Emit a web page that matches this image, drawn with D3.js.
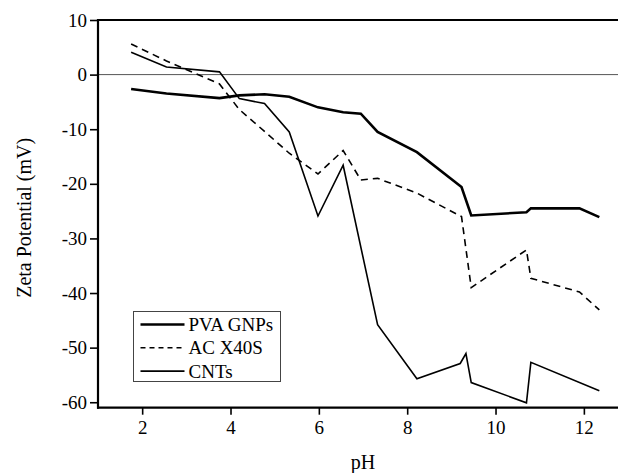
<!DOCTYPE html>
<html>
<head>
<meta charset="utf-8">
<script src="https://cdn.jsdelivr.net/npm/d3@7"></script>
<style>
  body { margin: 0; background: #fff; }
  svg { display: block; }
</style>
</head>
<body>
<div id="chart"></div>
<script>
// values
var phPVA   = [1.75, 2.55, 3.75, 4.2, 4.77, 5.33, 5.98, 6.55, 6.95, 7.33, 8.22, 9.23, 9.45, 10.7, 10.8, 11.9, 12.35];
var zetaPVA = [-2.65, -3.45, -4.3, -3.8, -3.6, -4.05, -6.0, -6.9, -7.15, -10.5, -14.2, -20.6, -25.8, -25.2, -24.5, -24.5, -26.1];

var phAC    = [1.75, 2.55, 3.75, 4.2, 4.77, 5.33, 5.98, 6.55, 6.95, 7.33, 8.22, 9.23, 9.45, 10.7, 10.8, 11.9, 12.35];
var zetaAC  = [5.6, 2.5, -1.7, -6.4, -10.4, -14.4, -18.2, -13.9, -19.3, -19.0, -21.7, -26.0, -39.0, -32.1, -37.3, -39.8, -43.1];

var phCNT   = [1.75, 2.55, 3.75, 4.2, 4.77, 5.33, 5.98, 6.55, 7.33, 8.22, 9.2, 9.33, 9.45, 10.7, 10.8, 12.35];
var zetaCNT = [4.1, 1.4, 0.5, -4.4, -5.3, -10.5, -25.9, -16.6, -45.8, -55.7, -52.9, -51.1, -56.4, -60.1, -52.7, -57.9];

var seriesNames = ["PVA GNPs", "AC X40S", "CNTs"];
var xMajor = [2, 4, 6, 8, 10, 12];
var xMinor = [1, 3, 5, 7, 9, 11];
var yMajor = [-60, -50, -40, -30, -20, -10, 0, 10];
var yMinor = [-55, -45, -35, -25, -15, -5, 5];

var W = 618, H = 473;
var plotLeft = 98, plotTop = 20, plotBottom = 407.7;

var svg = d3.select("#chart").append("svg")
  .attr("width", W)
  .attr("height", H)
  .style("font-family", "'Liberation Serif', 'Times New Roman', serif");

var x = d3.scaleLinear().domain([1, 13]).range([plotLeft, plotLeft + 12 * 44.17]);
var y = d3.scaleLinear().domain([-61, 10]).range([plotBottom, plotTop]);

var series = [
  {name: seriesNames[0], ph: phPVA, z: zetaPVA, width: 2.6, dash: null},
  {name: seriesNames[1], ph: phAC,  z: zetaAC,  width: 1.6, dash: "7,5"},
  {name: seriesNames[2], ph: phCNT, z: zetaCNT, width: 1.6, dash: null}
];

// zero line
svg.append("line")
  .attr("x1", x(1)).attr("x2", W)
  .attr("y1", y(0)).attr("y2", y(0))
  .attr("stroke", "#555").attr("stroke-width", 1);

// top frame
svg.append("line")
  .attr("x1", x(1)).attr("x2", W)
  .attr("y1", y(10)).attr("y2", y(10))
  .attr("stroke", "#000").attr("stroke-width", 2.2);

var line = d3.line()
  .x(function(d) { return x(d[0]); })
  .y(function(d) { return y(d[1]); });

svg.append("g")
  .selectAll("path")
  .data(series)
  .enter().append("path")
    .attr("d", function(s) { return line(d3.zip(s.ph, s.z)); })
    .attr("fill", "none")
    .attr("stroke", "#000")
    .attr("stroke-width", function(s) { return s.width; })
    .attr("stroke-dasharray", function(s) { return s.dash; })
    .attr("stroke-linejoin", "miter");

// axes
var fmt = function(d) { return String(d); };

var gx = svg.append("g")
  .attr("transform", "translate(0," + plotBottom + ")");
gx.call(d3.axisBottom(x).tickValues(xMinor).tickSize(4).tickFormat(""));
gx.call(d3.axisBottom(x).tickValues(xMajor).tickSize(7).tickPadding(6).tickFormat(fmt));
gx.selectAll(".domain").remove();
gx.append("line").attr("x1", x(1) - 1).attr("x2", W).attr("stroke", "#000").attr("stroke-width", 2.2);

var gy = svg.append("g")
  .attr("transform", "translate(" + plotLeft + ",0)");
gy.call(d3.axisLeft(y).tickValues(yMinor).tickSize(4).tickFormat(""));
gy.call(d3.axisLeft(y).tickValues(yMajor).tickSize(8).tickPadding(3).tickFormat(fmt));
gy.selectAll(".domain").remove();
gy.append("line").attr("y1", y(10) - 1).attr("y2", plotBottom + 1).attr("stroke", "#000").attr("stroke-width", 2.2);

svg.selectAll(".tick line").attr("stroke", "#000").attr("stroke-width", 1.6);
svg.selectAll(".tick text").attr("fill", "#000").style("font-size", "19px")
  .style("font-family", "'Liberation Serif', 'Times New Roman', serif");

// axis titles
svg.append("text")
  .attr("x", x(7))
  .attr("y", 469)
  .attr("text-anchor", "middle")
  .style("font-size", "20px")
  .text("pH");

svg.append("text")
  .attr("transform", "translate(31," + ((plotTop + plotBottom) / 2 + 4) + ") rotate(-90)")
  .attr("text-anchor", "middle")
  .style("font-size", "20px")
  .text("Zeta Potential (mV)");

// legend
var lg = svg.append("g").attr("transform", "translate(133.5,311.5)");
lg.append("rect")
  .attr("width", 147)
  .attr("height", 70)
  .attr("fill", "#fff")
  .attr("stroke", "#444")
  .attr("stroke-width", 1);

var item = lg.selectAll("g.item")
  .data(series)
  .enter().append("g")
    .attr("class", "item")
    .attr("transform", function(d, i) { return "translate(0," + (13 + i * 23.3) + ")"; });

item.append("line")
  .attr("x1", 7).attr("x2", 51)
  .attr("stroke", "#000")
  .attr("stroke-width", function(s) { return s.width; })
  .attr("stroke-dasharray", function(s) { return s.dash ? "5,4" : null; });

item.append("text")
  .attr("x", 55)
  .attr("dy", "0.35em")
  .style("font-size", "19px")
  .text(function(s) { return s.name; });
</script>
</body>
</html>
